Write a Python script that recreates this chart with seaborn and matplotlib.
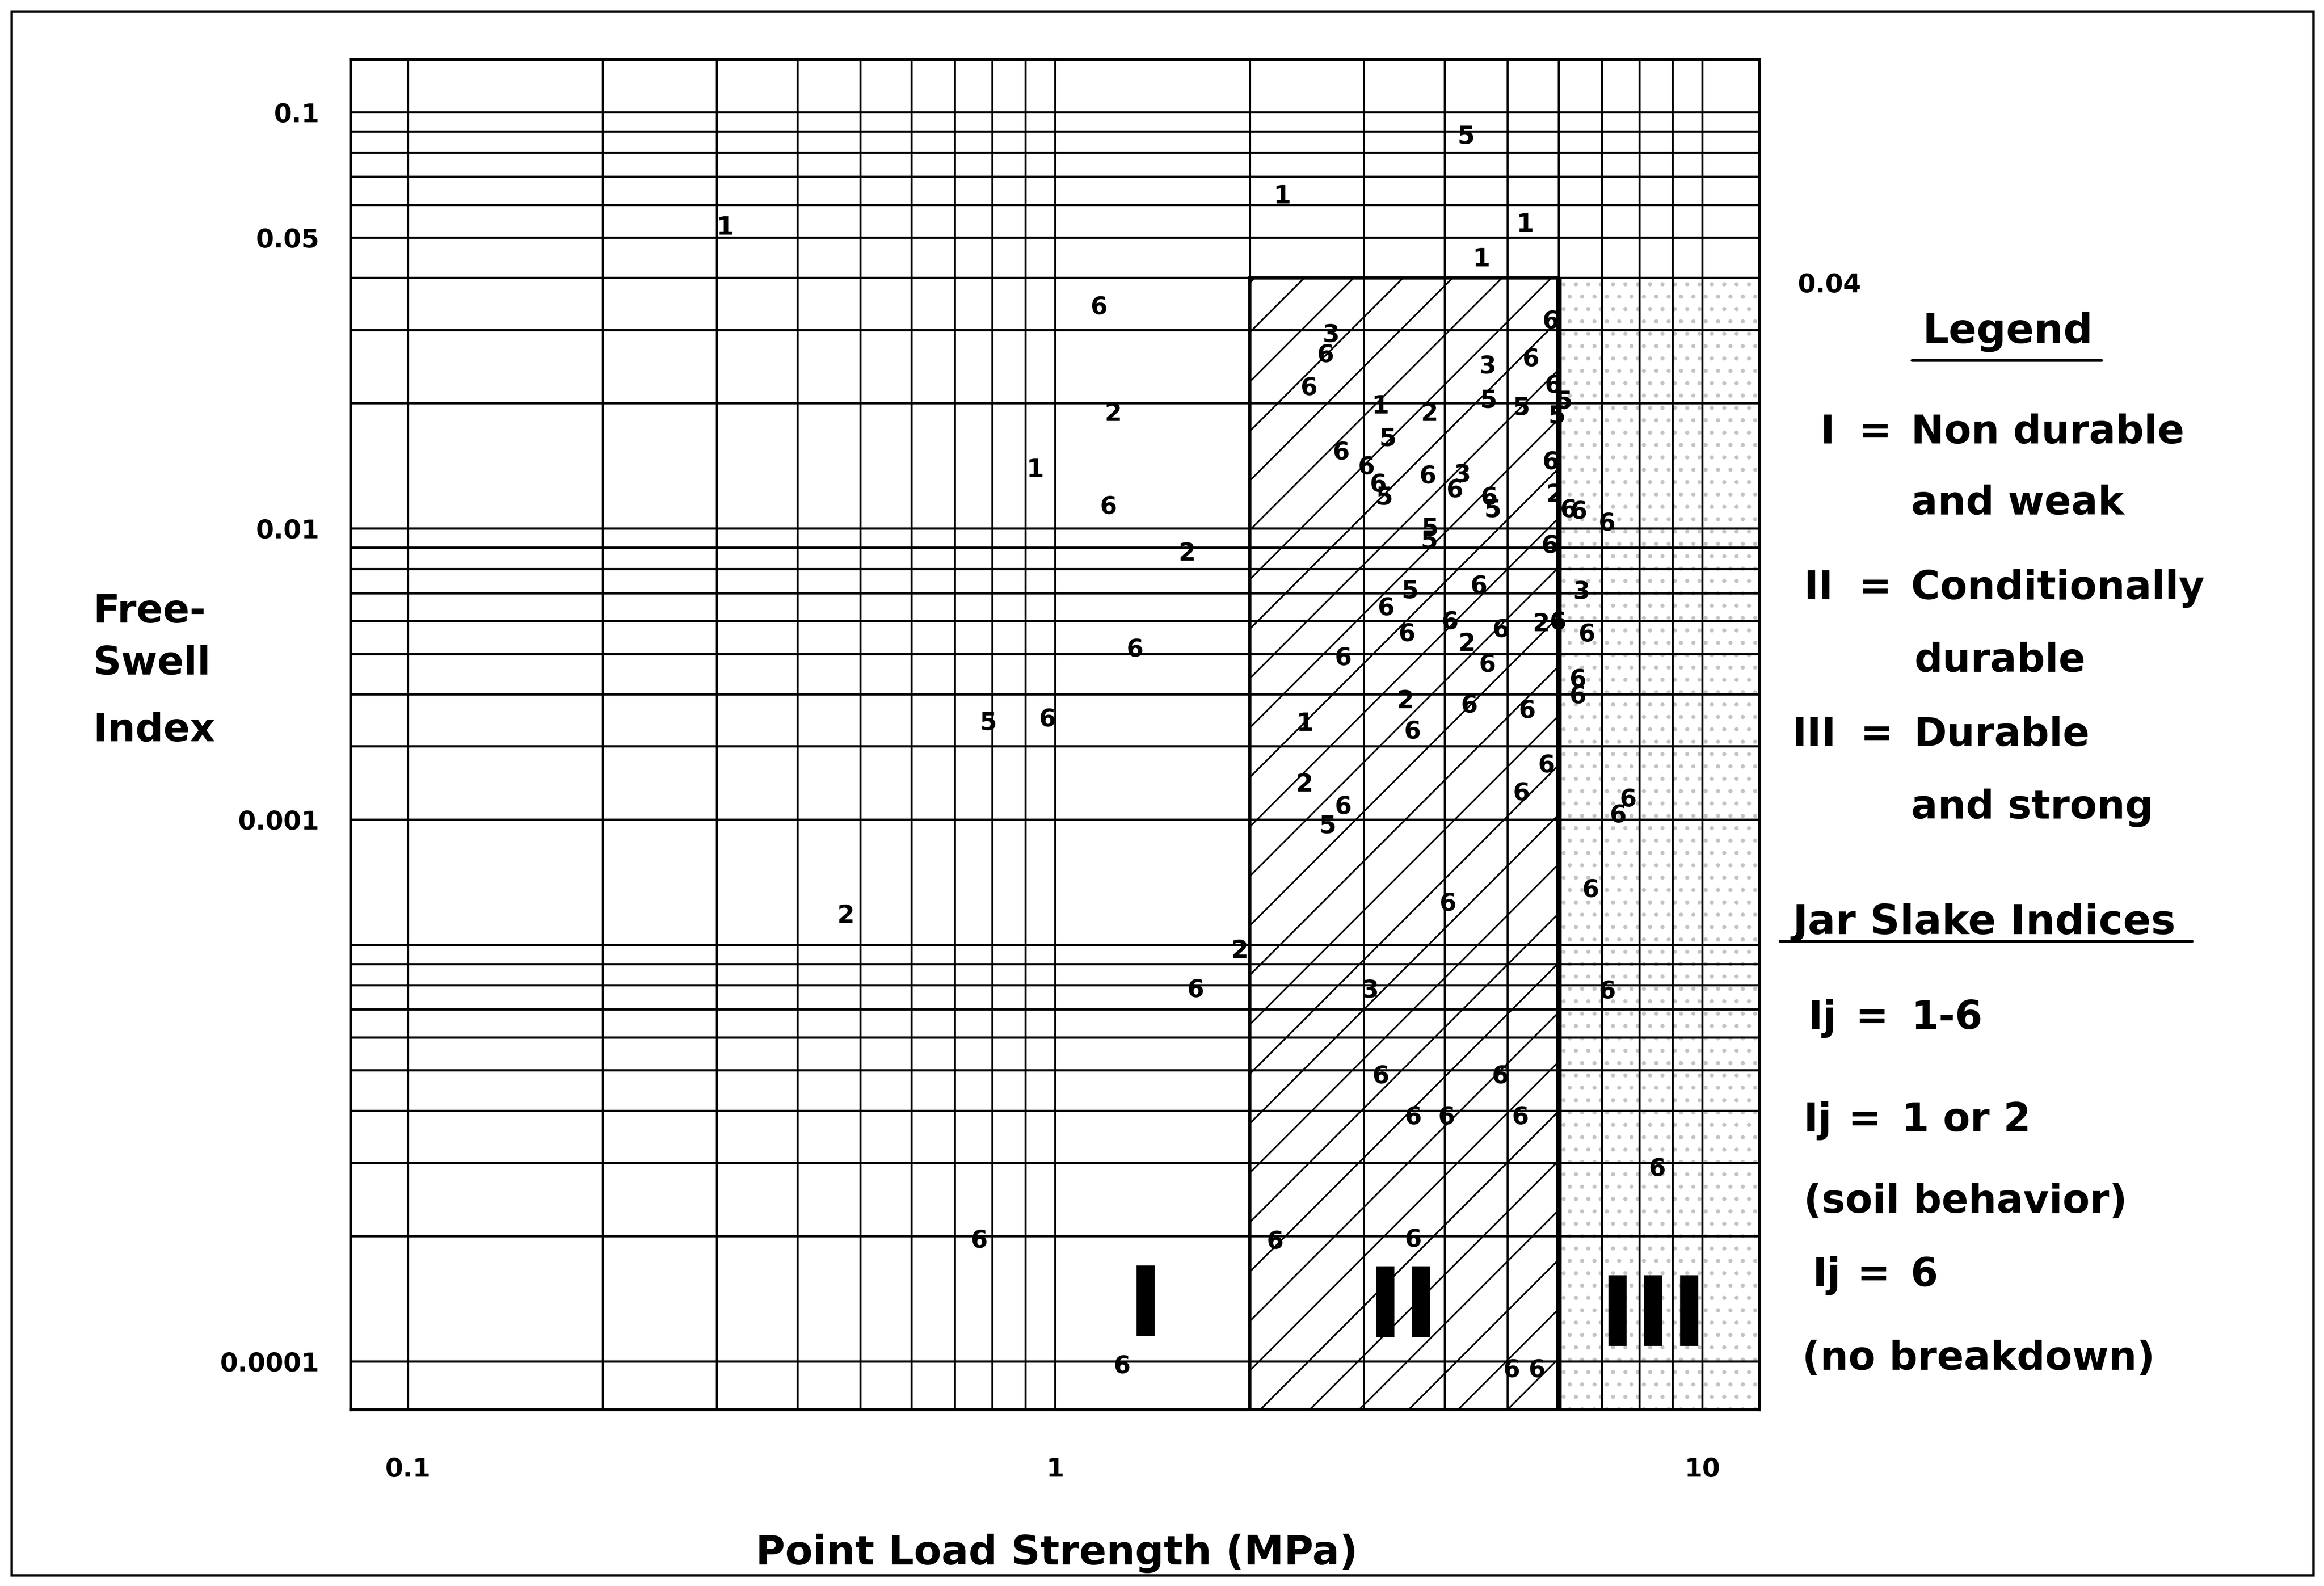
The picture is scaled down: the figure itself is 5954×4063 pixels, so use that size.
import matplotlib
matplotlib.use("Agg")
import matplotlib.pyplot as plt
import matplotlib.ticker as mticker
from matplotlib.patches import Rectangle
from matplotlib.lines import Line2D
import matplotlib.transforms as mtrans
import numpy as np
import pandas as pd
import seaborn as sns

# ---------------- data ----------------
point_load_mpa = [0.31, 2.25, 4.32, 5.34, 4.57, 1.17, 1.23, 0.934, 1.21, 1.60,
                  1.33, 0.789, 0.974, 0.475, 1.93, 1.65, 0.764, 1.27,
                  5.84, 2.67, 2.62, 2.47, 4.66, 5.44, 5.89, 6.12, 4.68, 5.26,
                  3.19, 3.79, 5.97, 3.27, 2.77, 3.03, 3.16, 3.23, 3.77, 4.26,
                  4.15, 4.69, 4.75, 5.84, 5.92, 6.22, 6.45, 3.80, 3.79, 5.82,
                  7.13, 6.51, 5.64, 5.99, 6.64, 6.43, 6.43, 5.75, 7.69, 7.42,
                  3.54, 3.25, 4.52, 4.08, 3.50, 4.89, 4.33, 2.79, 4.66, 3.48,
                  4.37, 5.37, 2.44, 3.57, 2.43, 5.26, 2.79, 2.64, 6.73, 4.05,
                  3.07, 7.14, 8.53, 3.19, 4.88, 3.58, 4.03, 5.24, 2.19, 3.58,
                  5.08, 5.56]

free_swell_index = [0.0535, 0.0636, 0.0883, 0.0544, 0.0449, 0.0344, 0.0191, 0.0140, 0.0114, 0.00882,
                    0.00518, 0.00345, 0.00352, 0.00119, 0.00098, 0.000788, 0.000197, 0.0000984,
                    0.0318, 0.0295, 0.0264, 0.0220, 0.0248, 0.0258, 0.0223, 0.0204, 0.0205, 0.0197,
                    0.0199, 0.0191, 0.0188, 0.0166, 0.0154, 0.0142, 0.0129, 0.0120, 0.0135, 0.0136,
                    0.0125, 0.0120, 0.0112, 0.0146, 0.0122, 0.0112, 0.0111, 0.0101, 0.00942, 0.00919,
                    0.0104, 0.00713, 0.00597, 0.00602, 0.00563, 0.00438, 0.00400, 0.00273, 0.00226, 0.00207,
                    0.00715, 0.00651, 0.00735, 0.00603, 0.00564, 0.00577, 0.00535, 0.00494, 0.00476, 0.00390,
                    0.00380, 0.00369, 0.00344, 0.00329, 0.00246, 0.00234, 0.00217, 0.00195, 0.00137, 0.00127,
                    0.000786, 0.000782, 0.000293, 0.000489, 0.000489, 0.000390, 0.000390, 0.000390, 0.000196, 0.000198,
                    0.0000963, 0.0000963]

jar_slake_index = ['1', '1', '5', '1', '1', '6', '2', '1', '6', '2',
                   '6', '5', '6', '2', '2', '6', '6', '6',
                   '6', '3', '6', '6', '3', '6', '6', '5', '5', '5',
                   '1', '2', '5', '5', '6', '6', '6', '5', '6', '3',
                   '6', '6', '5', '6', '2', '6', '6', '5', '5', '6',
                   '6', '3', '2', '6', '6', '6', '6', '6', '6', '6',
                   '5', '6', '6', '6', '6', '6', '2', '6', '6', '2',
                   '6', '6', '1', '6', '2', '6', '6', '5', '6', '6',
                   '3', '6', '6', '6', '6', '6', '6', '6', '6', '6',
                   '6', '6']

jar_slake_levels = ['1', '2', '3', '5', '6']

# durability zones
zone_II_mpa = [2.0, 6.0]          # hatched zone
zone_III_start_mpa = 6.0          # dotted zone, to the right edge
zone_top_swell = 0.04

zone_label_text = ['I', 'II', 'III']
zone_label_mpa = [1.379, 3.45, 8.40]
zone_label_swell = [1.149e-4, 1.144e-4, 1.09e-4]   # baseline of the numerals

# axes
x_range = (0.0815, 12.25)
y_range = (7.66e-5, 0.1341)
x_major = [0.1, 1, 10]
x_major_labels = ['0.1', '1', '10']
x_minor = [0.2, 0.3, 0.4, 0.5, 0.6, 0.7, 0.8, 0.9, 2, 3, 4, 5, 6, 7, 8, 9]
y_tick_vals = [0.1, 0.05, 0.01, 0.002, 0.0001]
y_tick_labels = ['0.1', '0.05', '0.01', '0.001', '0.0001']
y_grid_vals = [m * 10.0 ** e for e in (-2, -3, -4) for m in range(1, 10)] + [0.1]
y_minor = [v for v in y_grid_vals if not any(np.isclose(v, t) for t in y_tick_vals)]

# ---------------- style ----------------
sns.set_theme(style="white")
plt.rcParams['font.family'] = ['DejaVu Sans']
plt.rcParams['font.weight'] = 'bold'
plt.rcParams['text.color'] = 'black'
plt.rcParams['axes.labelcolor'] = 'black'
plt.rcParams['xtick.color'] = 'black'
plt.rcParams['ytick.color'] = 'black'
plt.rcParams['mathtext.fontset'] = 'dejavusans'
plt.rcParams['hatch.linewidth'] = 0.8

DPI = 380
W, H = 1568.0, 1070.0


def fx(px):
    return px / W


def fy(py):
    return 1.0 - py / H


fig = plt.figure(figsize=(5954 / DPI, 4063 / DPI), dpi=DPI)
fig.patch.set_facecolor('white')
ax = fig.add_axes([0.1508, 0.1112, 0.6062, 0.8514])
ax.set_facecolor('white')
ax.set_xscale('log')
ax.set_yscale('log')
ax.set_xlim(*x_range)
ax.set_ylim(*y_range)

# zones
ax.add_patch(Rectangle((zone_II_mpa[0], y_range[0]), zone_II_mpa[1] - zone_II_mpa[0],
                       zone_top_swell - y_range[0], facecolor='none', edgecolor='black',
                       hatch='/', linewidth=1.6, zorder=1.5))
ax.add_patch(Rectangle((zone_III_start_mpa, y_range[0]), x_range[1] - zone_III_start_mpa,
                       zone_top_swell - y_range[0], facecolor='none', edgecolor='#c4c4c4',
                       hatch='..', linewidth=0, zorder=1.4))
ax.vlines(zone_III_start_mpa, y_range[0], zone_top_swell, color='black', linewidth=2.8, zorder=3)

# data points drawn as their jar slake index digits
df = pd.DataFrame({'strength': point_load_mpa, 'swell': free_swell_index, 'ij': jar_slake_index})
digit_markers = {k: r'$\mathbf{' + k + '}$' for k in jar_slake_levels}
sns.scatterplot(data=df, x='strength', y='swell', style='ij', style_order=jar_slake_levels,
                markers=digit_markers, color='black', s=80, linewidth=0, edgecolor='none',
                legend=False, ax=ax, zorder=5)

# zone roman numerals
for t, xv, yv in zip(zone_label_text, zone_label_mpa, zone_label_swell):
    ax.text(xv, yv, t, ha='center', va='baseline', fontsize=47, fontweight='bold',
            color='black', zorder=6)

# ticks and grid
ax.xaxis.set_major_locator(mticker.FixedLocator(x_major))
ax.xaxis.set_major_formatter(mticker.FixedFormatter(x_major_labels))
ax.xaxis.set_minor_locator(mticker.FixedLocator(x_minor))
ax.xaxis.set_minor_formatter(mticker.NullFormatter())
ax.yaxis.set_major_locator(mticker.FixedLocator(y_tick_vals))
ax.yaxis.set_major_formatter(mticker.FixedFormatter(y_tick_labels))
ax.yaxis.set_minor_locator(mticker.FixedLocator(y_minor))
ax.yaxis.set_minor_formatter(mticker.NullFormatter())

ax.set_axisbelow(False)
ax.xaxis.grid(True, which='both', color='black', linewidth=1.0)
ax.yaxis.grid(True, which='both', color='black', linewidth=1.1)
ax.tick_params(which='both', length=0, labelcolor='black')
ax.tick_params(axis='x', which='major', pad=23, labelsize=12.5)
ax.tick_params(axis='y', which='major', pad=15, labelsize=12.5)
for lab in ax.get_xticklabels() + ax.get_yticklabels():
    lab.set_fontweight('bold')
for sp in ax.spines.values():
    sp.set_color('black')
    sp.set_linewidth(1.4)
ax.set_xlabel('')
ax.set_ylabel('')

# 0.04 label on the right side
trans = mtrans.blended_transform_factory(ax.transAxes, ax.transData)
ax.text(1.0273, zone_top_swell * 0.975, '0.04', transform=trans, ha='left', va='center_baseline',
        fontsize=12.5, fontweight='bold', color='black', clip_on=False)

# axis titles
for txt, py in [('Free-', 410), ('Swell', 445), ('Index', 490)]:
    fig.text(fx(63), fy(py), txt, ha='left', va='center_baseline', fontsize=19,
             fontweight='bold', color='black')
fig.text(fx(713), fy(1045), 'Point Load Strength (MPa)', ha='center', va='center_baseline',
         fontsize=19.5, fontweight='bold', color='black')

# legend block
LS = 19.2
HS = 20.0
fig.text(fx(1354.5), fy(221), 'Legend', ha='center', va='center_baseline', fontsize=HS,
         fontweight='bold', color='black')
fig.add_artist(Line2D([fx(1290), fx(1418)], [fy(243), fy(243)], color='black', lw=1.3,
                      transform=fig.transFigure))
legend_rows = [
    ('I', 1238, 1265, 'Non durable', 1289.5, 289),
    ('', 0, 0, 'and weak', 1289.5, 337),
    ('II', 1237, 1265, 'Conditionally', 1289.5, 394),
    ('', 0, 0, 'durable', 1291.5, 443),
    ('III', 1239, 1266, 'Durable', 1291.5, 493),
    ('', 0, 0, 'and strong', 1289.5, 542),
]
for rn, rx, ex, body, bx, py in legend_rows:
    if rn:
        fig.text(fx(rx), fy(py), rn, ha='right', va='center_baseline', fontsize=LS,
                 fontweight='bold', color='black')
        fig.text(fx(ex), fy(py), '=', ha='center', va='center_baseline', fontsize=LS,
                 fontweight='bold', color='black')
    fig.text(fx(bx), fy(py), body, ha='left', va='center_baseline', fontsize=LS,
             fontweight='bold', color='black')

fig.text(fx(1209.5), fy(619.6), 'Jar Slake Indices', ha='left', va='center_baseline',
         fontsize=HS, fontweight='bold', color='black')
fig.add_artist(Line2D([fx(1201), fx(1479)], [fy(635), fy(635)], color='black', lw=1.3,
                      transform=fig.transFigure))
ij_rows = [
    (1220, 1263, '1-6', 1289.5, 684),
    (1217, 1258, '1 or 2', 1283, 753),
    (1223, 1264, '6', 1289, 857.5),
]
for ix, ex, body, bx, py in ij_rows:
    fig.text(fx(ix), fy(py), 'Ij', ha='left', va='center_baseline', fontsize=LS,
             fontweight='bold', color='black')
    fig.text(fx(ex), fy(py), '=', ha='center', va='center_baseline', fontsize=LS,
             fontweight='bold', color='black')
    fig.text(fx(bx), fy(py), body, ha='left', va='center_baseline', fontsize=LS,
             fontweight='bold', color='black')
fig.text(fx(1217), fy(808), '(soil behavior)', ha='left', va='center_baseline', fontsize=LS,
         fontweight='bold', color='black')
fig.text(fx(1216), fy(914), '(no breakdown)', ha='left', va='center_baseline', fontsize=LS,
         fontweight='bold', color='black')

# outer frame
fig.add_artist(Rectangle((fx(8), fy(1063)), fx(1561) - fx(8), fy(8) - fy(1063),
                         transform=fig.transFigure, fill=False, edgecolor='black', linewidth=1.2))

fig.savefig('out.png', dpi=DPI, facecolor='white')
